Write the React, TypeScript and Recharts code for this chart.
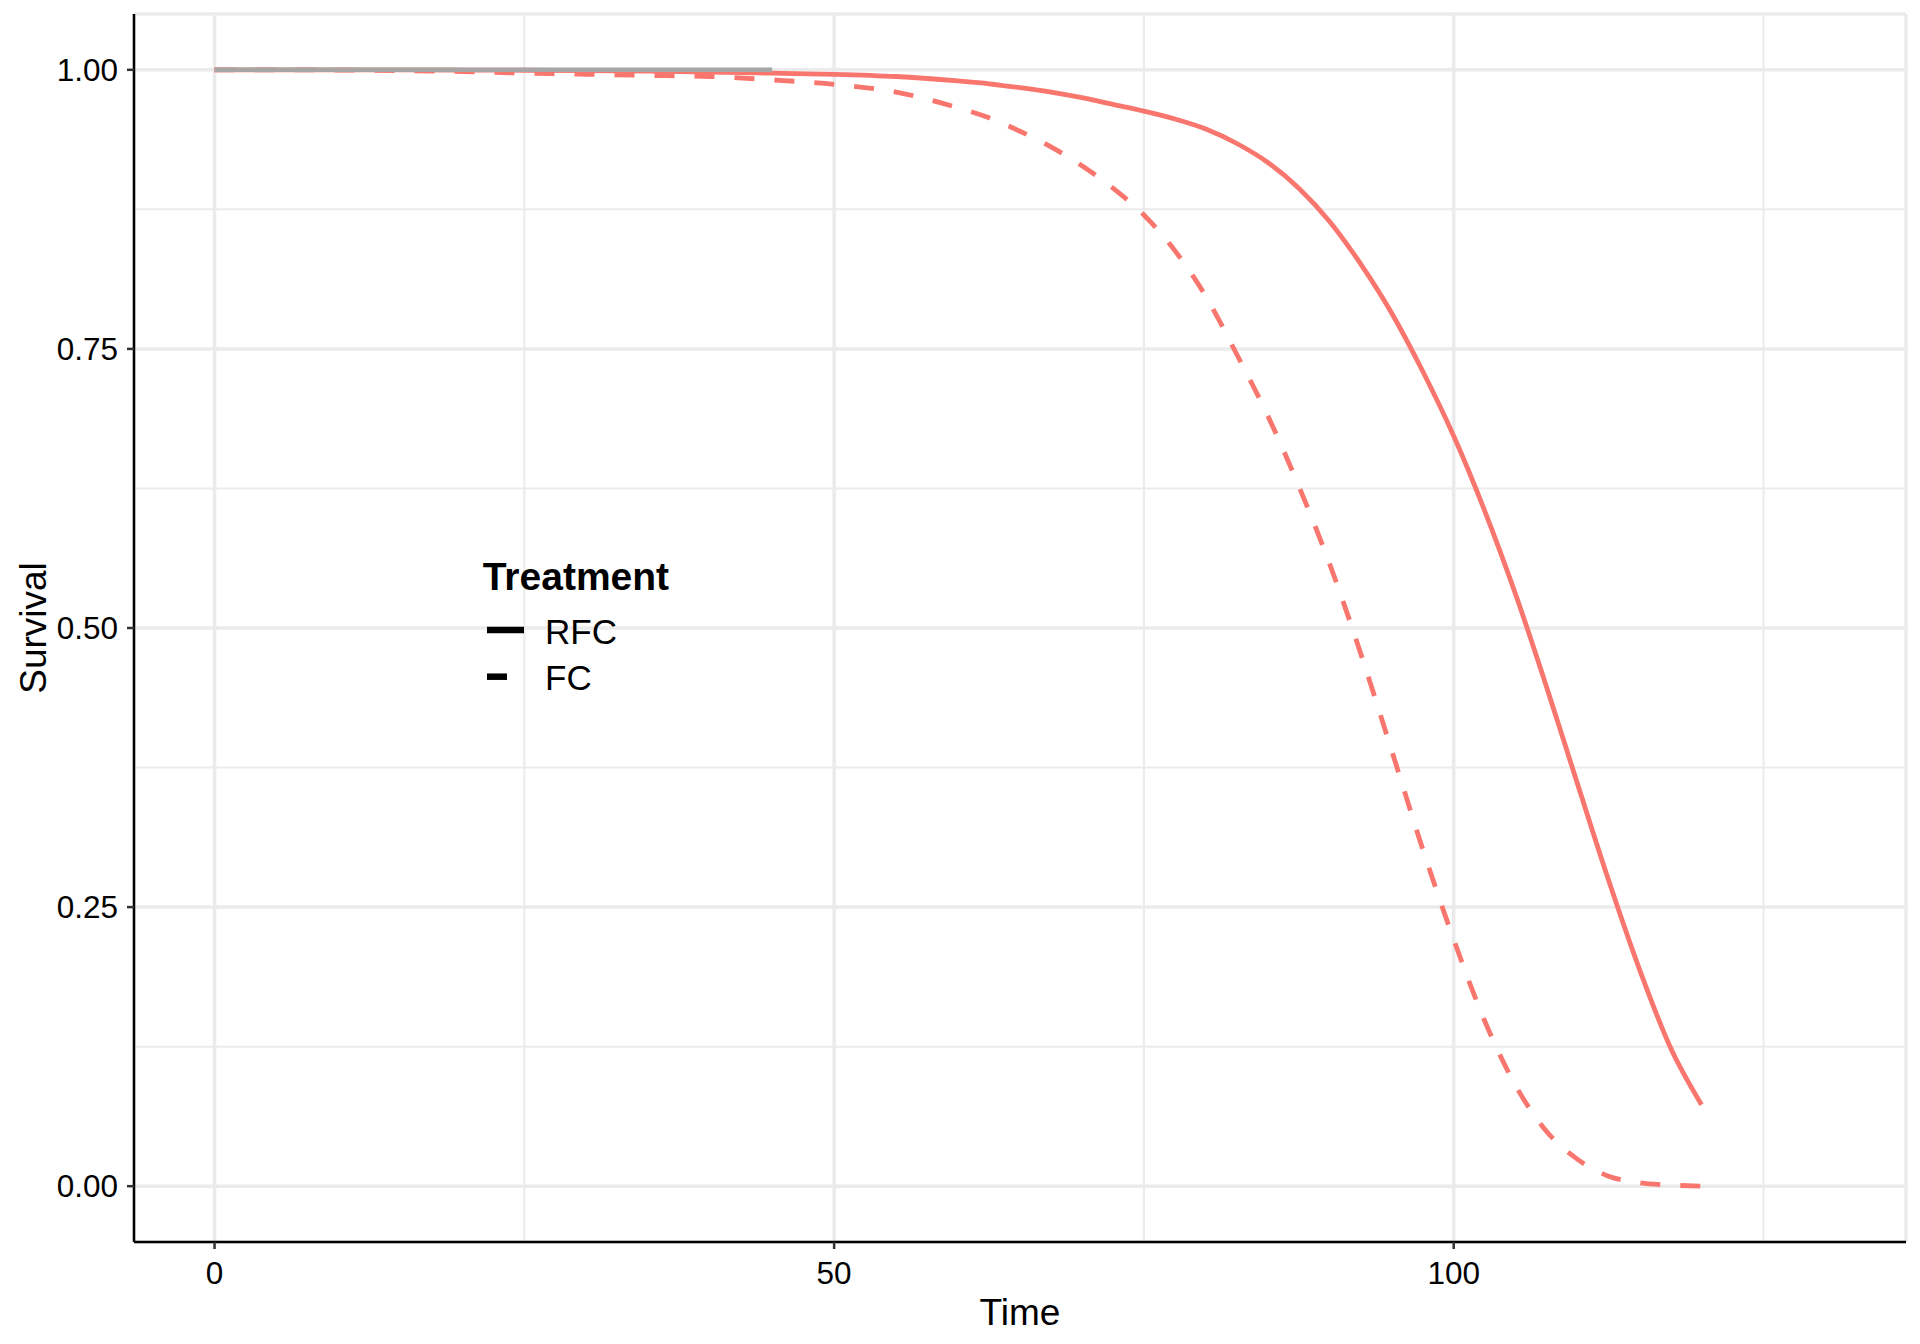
import React from 'react';
import { LineChart, Line, XAxis, YAxis, CartesianGrid, ReferenceLine, Legend } from 'recharts';

const times = [0, 5, 10, 15, 20, 25, 30, 35, 40, 45, 50, 55, 60, 62.5, 65, 67.5, 70, 72.5, 75, 77.5, 80, 82.5, 85, 87.5, 90, 92.5, 95, 97.5, 100, 102.5, 105, 107.5, 110, 112.5, 115, 117.5, 120];
const rfcSurvival = [1, 1, 1, 1, 0.9998, 0.9996, 0.9993, 0.9988, 0.998, 0.997, 0.996, 0.994, 0.99, 0.9875, 0.984, 0.98, 0.975, 0.969, 0.963, 0.956, 0.947, 0.934, 0.917, 0.894, 0.864, 0.826, 0.782, 0.73, 0.672, 0.605, 0.53, 0.447, 0.36, 0.274, 0.194, 0.124, 0.073];
const fcSurvival = [1, 1, 0.9998, 0.9993, 0.9985, 0.997, 0.996, 0.995, 0.994, 0.991, 0.987, 0.98, 0.966, 0.957, 0.945, 0.931, 0.914, 0.894, 0.87, 0.838, 0.797, 0.745, 0.69, 0.627, 0.557, 0.477, 0.39, 0.302, 0.221, 0.148, 0.09, 0.049, 0.024, 0.009, 0.003, 0.001, 0];
const referenceSurvival = [1, 1, 1, 1, 1, 1, 1, 1, 1, 1, null, null, null, null, null, null, null, null, null, null, null, null, null, null, null, null, null, null, null, null, null, null, null, null, null, null, null];

const xTicks = [0, 50, 100];
const xMinor = [25, 75, 125];
const yTicks = [0, 0.25, 0.5, 0.75, 1];
const yMinor = [0.125, 0.375, 0.625, 0.875];

const legendTitle = 'Treatment';
const legendItems = [
  { label: 'RFC', dash: undefined as string | undefined },
  { label: 'FC', dash: '20 20' },
];

const table = times.map((t, i) => ({
  time: t,
  rfc: rfcSurvival[i],
  fc: fcSurvival[i],
  ref: referenceSurvival[i],
}));

const FONT = '"Liberation Sans", Arial, Helvetica, sans-serif';
const RED = '#F8766D';

const renderLegend = () => (
  <svg width={300} height={170} style={{ display: 'block', fontFamily: FONT }}>
    <text x={12.7} y={50} fontSize={39} fontWeight="bold" fill="#000">{legendTitle}</text>
    {legendItems.map((it, i) => (
      <g key={it.label}>
        <line x1={17} x2={54} y1={90 + i * 46.7} y2={90 + i * 46.7} stroke="#000" strokeWidth={6.5} strokeDasharray={it.dash} />
        <text x={75} y={104 + i * 46} fontSize={35} fill="#000">{it.label}</text>
      </g>
    ))}
  </svg>
);

export default function App() {
  return (
    <div style={{ position: 'absolute', left: 0, top: 0, width: 1920, height: 1344, background: '#fff', fontFamily: FONT }}>
      <LineChart
        width={1920}
        height={1344}
        data={table}
        margin={{ top: 14, right: 14, left: 0, bottom: 44 }}
      >
        <CartesianGrid stroke="#ebebeb" strokeWidth={3.5} />
        {xMinor.map((v) => (
          <ReferenceLine key={'xm' + v} x={v} stroke="#ebebeb" strokeWidth={2} ifOverflow="extendDomain" />
        ))}
        {yMinor.map((v) => (
          <ReferenceLine key={'ym' + v} y={v} stroke="#ebebeb" strokeWidth={2} />
        ))}
        <XAxis
          dataKey="time"
          type="number"
          domain={[-6.5, 136.5]}
          ticks={xTicks}
          allowDataOverflow
          height={58}
          tickSize={7}
          tickMargin={13}
          axisLine={{ stroke: '#000', strokeWidth: 2.5 }}
          tickLine={{ stroke: '#333', strokeWidth: 2.5 }}
          tick={{ fontSize: 31.5, fill: '#000', fontFamily: FONT }}
          label={{
            content: (props: any) => {
              const vb = props.viewBox || {};
              return (
                <text x={vb.x + vb.width / 2} y={1325} textAnchor="middle" fontSize={37} fill="#000" fontFamily={FONT}>Time</text>
              );
            },
          }}
        />
        <YAxis
          type="number"
          domain={[-0.05, 1.05]}
          ticks={yTicks}
          allowDataOverflow
          width={134}
          tickSize={7}
          tickMargin={9}
          tickFormatter={(v: number) => v.toFixed(2)}
          axisLine={{ stroke: '#000', strokeWidth: 2.5 }}
          tickLine={{ stroke: '#333', strokeWidth: 2.5 }}
          tick={{ fontSize: 31.5, fill: '#000', fontFamily: FONT }}
          label={{
            content: (props: any) => {
              const vb = props.viewBox || {};
              const cy = vb.y + vb.height / 2;
              return (
                <text x={45.7} y={cy} transform={`rotate(-90, 45.7, ${cy})`} textAnchor="middle" fontSize={37} fill="#000" fontFamily={FONT}>Survival</text>
              );
            },
          }}
        />
        <Line dataKey="rfc" type="monotone" stroke={RED} strokeWidth={4.8} dot={false} activeDot={false} isAnimationActive={false} />
        <Line dataKey="fc" type="monotone" stroke={RED} strokeWidth={4.8} strokeDasharray="20 20" dot={false} activeDot={false} isAnimationActive={false} />
        <Line dataKey="ref" type="monotone" stroke="#a6a6a6" strokeWidth={4.5} dot={false} activeDot={false} connectNulls={false} isAnimationActive={false} />
        <Legend
          layout="vertical"
          align="center"
          verticalAlign="middle"
          content={renderLegend}
          wrapperStyle={{ position: 'absolute', left: 470, top: 540, width: 300, height: 170 }}
        />
      </LineChart>
    </div>
  );
}
